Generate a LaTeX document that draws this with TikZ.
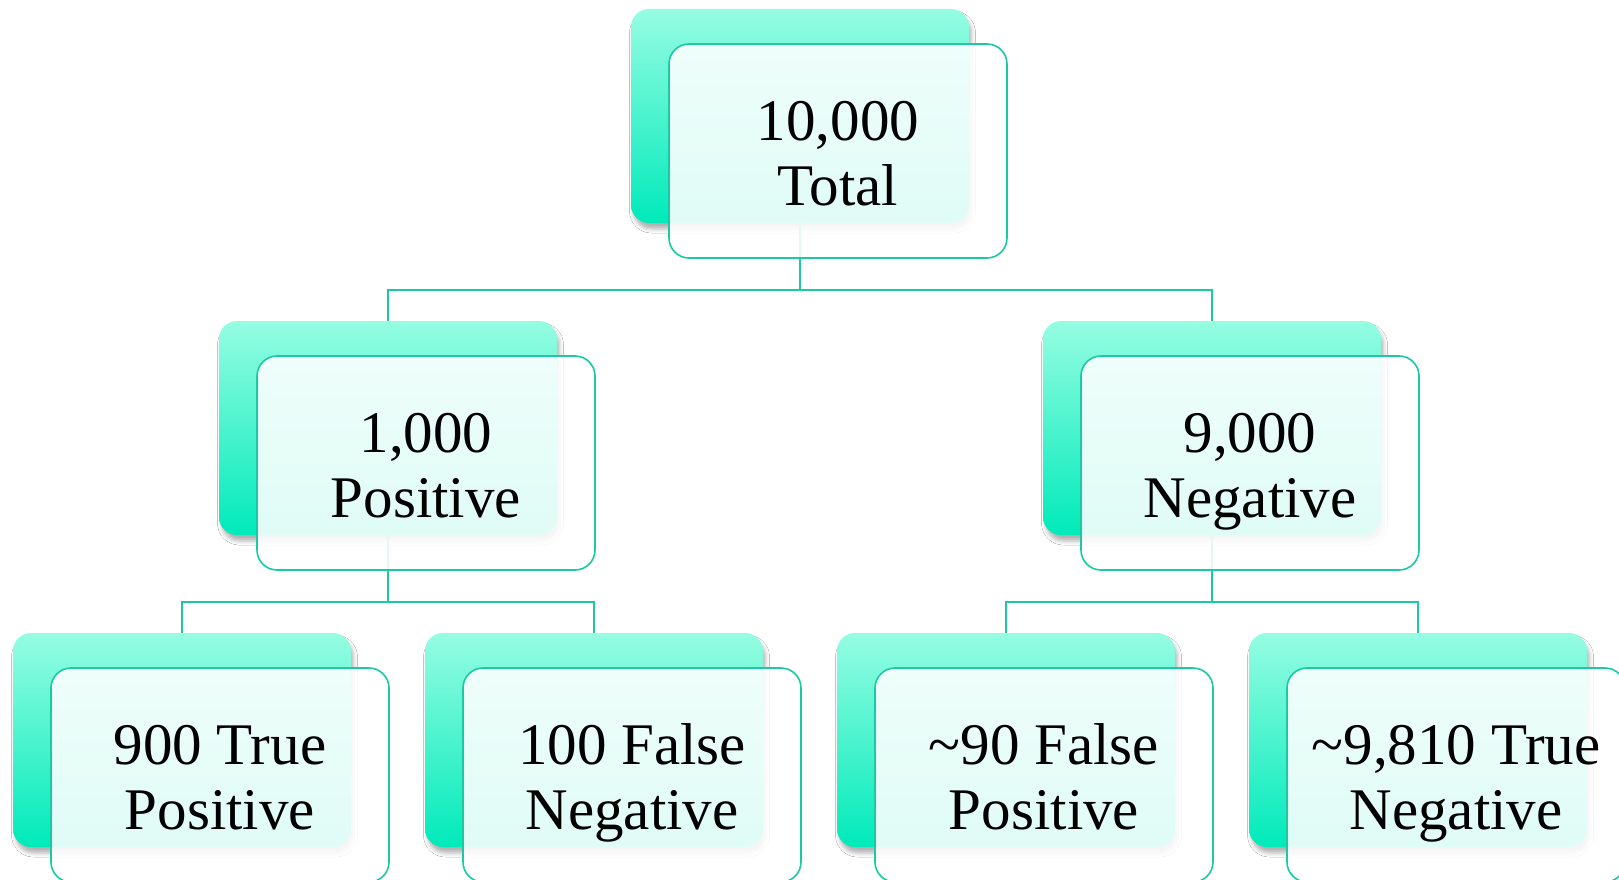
\documentclass[tikz,border=0pt]{standalone}
\usepackage{fontspec}
\setmainfont{Liberation Serif}
\usetikzlibrary{shadows.blur,calc}
\definecolor{tealline}{RGB}{25,202,162}
\definecolor{gradtop}{RGB}{150,253,226}
\definecolor{gradbot}{RGB}{0,234,186}
\tikzset{
  backbox/.style={rounded corners=18pt, minimum width=338pt, minimum height=214pt, inner sep=0pt,
    top color=gradtop, bottom color=gradbot, draw=none,
    blur shadow={shadow xshift=2.5pt, shadow yshift=-6pt, shadow blur radius=4pt, shadow opacity=30}},
  frontbox/.style={rounded corners=20pt, minimum width=338pt, minimum height=214pt, inner sep=0pt,
    draw=tealline, line width=1.6pt, fill=white, fill opacity=0.88, text opacity=1,
    align=center, text height=108pt, text depth=0pt,
    font=\fontsize{59}{65}\selectfont},
  conn/.style={draw=tealline, line width=1.6pt},
}
\begin{document}
\begin{tikzpicture}[x=1pt,y=-1pt]
\useasboundingbox[fill=white] (0,0) rectangle (1619,880);
% back boxes
\node[backbox] (t) at (800,116) {};
\node[backbox] (p) at (388,428) {};
\node[backbox] (n) at (1212,428) {};
\node[backbox] (tp) at (182,740) {};
\node[backbox] (fn) at (594,740) {};
\node[backbox] (fp) at (1006,740) {};
\node[backbox] (tn) at (1418,740) {};
% connectors
\coordinate (j1) at (800,290);
\coordinate (j2) at (388,602);
\coordinate (j3) at (1212,602);
\draw[conn] (t.south) -- (j1) -| (p.north);
\draw[conn] (j1) -| (n.north);
\draw[conn] (p.south) -- (j2) -| (tp.north);
\draw[conn] (j2) -| (fn.north);
\draw[conn] (n.south) -- (j3) -| (fp.north);
\draw[conn] (j3) -| (tn.north);
% front boxes with text
\node[frontbox] (tf) at ($(t.center)+(38,35)$) {10,000\\Total};
\node[frontbox] (pf) at ($(p.center)+(38,35)$) {1,000\\Positive};
\node[frontbox] (nf) at ($(n.center)+(38,35)$) {9,000\\Negative};
\node[frontbox] (tpf) at ($(tp.center)+(38,35)$) {900 True\\Positive};
\node[frontbox] (fnf) at ($(fn.center)+(38,35)$) {100 False\\Negative};
\node[frontbox] (fpf) at ($(fp.center)+(38,35)$) {\textasciitilde90 False\\Positive};
\node[frontbox] (tnf) at ($(tn.center)+(38,35)$) {\textasciitilde9,810 True\\Negative};
\end{tikzpicture}
\end{document}
